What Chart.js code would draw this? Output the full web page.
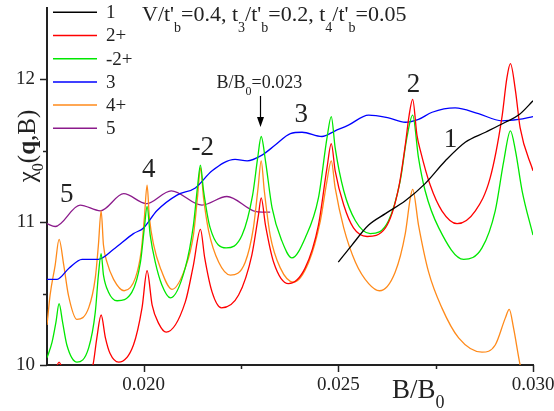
<!DOCTYPE html>
<html>
<head>
<meta charset="utf-8">
<script src="https://cdn.jsdelivr.net/npm/chart.js@4.4.1/dist/chart.umd.min.js"></script>
<style>
  body { margin: 0; background: #fff; }
</style>
</head>
<body>
<canvas id="canvas" width="554" height="411"></canvas>
<script>
// values, pairs of [B/B0, chi0]
var curve1 = [[0.02500,10.72],[0.02535,10.84],[0.02578,10.98],[0.02621,11.06],[0.02672,11.15],[0.02723,11.27],
  [0.02775,11.43],[0.02826,11.56],[0.02878,11.63],[0.02929,11.70],[0.02963,11.75],[0.03000,11.85]];

var curve2p = [[0.01752,9.92],[0.01775,9.98],[0.01783,10.02],[0.01791,9.98],[0.01829,9.85],[0.01870,10.00],
  [0.01880,10.19],[0.01891,10.35],[0.01902,10.19],[0.01914,10.08],[0.01936,10.02],[0.01974,10.14],[0.01996,10.40],
  [0.02009,10.66],[0.02022,10.42],[0.02039,10.29],[0.02058,10.23],[0.02107,10.44],[0.02128,10.70],[0.02146,10.95],
  [0.02157,10.75],[0.02176,10.51],[0.02200,10.40],[0.02244,10.49],[0.02278,10.77],[0.02295,11.05],[0.02302,11.17],
  [0.02313,10.98],[0.02334,10.72],[0.02372,10.57],[0.02415,10.68],[0.02449,10.98],[0.02471,11.38],[0.02482,11.55],
  [0.02492,11.36],[0.02514,11.12],[0.02539,10.96],[0.02574,10.90],[0.02621,10.96],[0.02655,11.24],[0.02672,11.54],
  [0.02682,11.75],[0.02691,11.86],[0.02702,11.61],[0.02711,11.50],[0.02736,11.26],[0.02766,11.08],[0.02805,10.99],
  [0.02852,11.08],[0.02890,11.31],[0.02920,11.73],[0.02933,12.01],[0.02942,12.11],[0.02955,11.92],[0.02967,11.66],
  [0.03000,11.36]];

var curve2m = [[0.01752,10.05],[0.01765,10.16],[0.01775,10.30],[0.01783,10.43],[0.01792,10.30],[0.01803,10.14],
  [0.01829,10.02],[0.01859,10.12],[0.01876,10.37],[0.01884,10.63],[0.01891,10.78],[0.01897,10.63],[0.01910,10.51],
  [0.01932,10.45],[0.01970,10.51],[0.01992,10.72],[0.02002,10.96],[0.02009,11.11],[0.02017,10.91],[0.02030,10.72],
  [0.02047,10.56],[0.02069,10.47],[0.02107,10.68],[0.02128,10.98],[0.02139,11.26],[0.02146,11.40],[0.02154,11.22],
  [0.02171,10.96],[0.02212,10.82],[0.02253,10.91],[0.02280,11.19],[0.02293,11.45],[0.02302,11.60],[0.02313,11.43],
  [0.02330,11.10],[0.02355,10.87],[0.02381,10.75],[0.02415,10.89],[0.02449,11.17],[0.02471,11.59],[0.02482,11.74],
  [0.02492,11.52],[0.02514,11.22],[0.02544,11.01],[0.02582,10.92],[0.02629,11.01],[0.02659,11.29],[0.02676,11.59],
  [0.02691,11.75],[0.02706,11.45],[0.02723,11.22],[0.02758,10.96],[0.02822,10.74],[0.02869,10.82],[0.02903,11.08],
  [0.02925,11.43],[0.02942,11.64],[0.02955,11.50],[0.02972,11.22],[0.03000,10.91]];

var curve3 = [[0.01752,10.60],[0.01778,10.60],[0.01809,10.68],[0.01842,10.74],[0.01884,10.74],[0.01923,10.81],
  [0.01974,10.92],[0.02000,10.96],[0.02034,11.08],[0.02086,11.19],[0.02133,11.24],[0.02176,11.36],[0.02235,11.44],
  [0.02266,11.43],[0.02304,11.47],[0.02338,11.54],[0.02377,11.62],[0.02407,11.63],[0.02458,11.60],[0.02492,11.64],
  [0.02526,11.68],[0.02578,11.75],[0.02629,11.73],[0.02672,11.70],[0.02706,11.72],[0.02741,11.77],[0.02800,11.80],
  [0.02860,11.76],[0.02920,11.71],[0.02963,11.72],[0.03000,11.74]];

var curve4p = [[0.01752,10.28],[0.01760,10.49],[0.01773,10.70],[0.01783,10.88],[0.01795,10.70],[0.01807,10.49],
  [0.01829,10.32],[0.01859,10.40],[0.01876,10.61],[0.01884,10.84],[0.01891,11.08],[0.01897,10.84],[0.01906,10.72],
  [0.01923,10.60],[0.01950,10.52],[0.01979,10.61],[0.01994,10.80],[0.02002,11.03],[0.02009,11.26],[0.02015,11.03],
  [0.02026,10.84],[0.02043,10.68],[0.02073,10.53],[0.02107,10.68],[0.02128,10.91],[0.02139,11.19],[0.02146,11.38],
  [0.02154,11.17],[0.02167,10.94],[0.02193,10.72],[0.02223,10.63],[0.02261,10.72],[0.02282,10.96],[0.02294,11.24],
  [0.02302,11.43],[0.02310,11.22],[0.02325,10.91],[0.02351,10.68],[0.02385,10.58],[0.02424,10.72],[0.02454,11.01],
  [0.02471,11.29],[0.02482,11.43],[0.02492,11.24],[0.02514,10.96],[0.02544,10.72],[0.02578,10.57],[0.02606,10.52],
  [0.02646,10.65],[0.02672,10.92],[0.02685,11.17],[0.02691,11.23],[0.02706,10.98],[0.02732,10.65],[0.02766,10.40],
  [0.02809,10.19],[0.02869,10.09],[0.02903,10.14],[0.02929,10.33],[0.02939,10.39],[0.02950,10.26],[0.02967,10.00],
  [0.02975,9.92]];

var curve5 = [[0.01752,10.99],[0.01773,10.97],[0.01837,11.12],[0.01889,11.08],[0.01949,11.20],[0.02007,11.13],
  [0.02071,11.22],[0.02150,11.12],[0.02214,11.18],[0.02282,11.08],[0.02305,11.07],[0.02325,11.07]];

var seriesNames = ['1', '2+', '-2+', '3', '4+', '5'];
var seriesColors = ['#000000', '#ff0000', '#00e800', '#0000ff', '#ff8a1a', '#8b1a8b'];
var xTicks = [0.020, 0.025, 0.030];
var xMinor = [0.0225, 0.0275];
var yTicks = [10, 11, 12];
var yMinor = [10.5, 11.5];
// curve labels and where they sit (data units)
var peakNames = ['5', '4', '-2', '3', '2', '1'];
var peakAt = [[0.01803,11.20],[0.02013,11.37],[0.02152,11.53],[0.02405,11.76],[0.02693,11.97],[0.02788,11.58]];
var markB = 0.023;

var serif = '"Liberation Serif", "Times New Roman", serif';

function richWidth(ctx, parts, size) {
  var w = 0;
  parts.forEach(function(p) {
    var fs = p[1] == 's' ? Math.round(size * 0.65) : size;
    ctx.font = (p[1] == 'b' ? 'bold ' : '') + fs + 'px ' + serif;
    w += ctx.measureText(p[0]).width;
  });
  return w;
}
function drawRich(ctx, parts, x, y, size, drop) {
  parts.forEach(function(p) {
    var sub = p[1] == 's';
    var fs = sub ? Math.round(size * 0.65) : size;
    ctx.font = (p[1] == 'b' ? 'bold ' : '') + fs + 'px ' + serif;
    ctx.fillText(p[0], x, y + (sub ? drop : 0));
    x += ctx.measureText(p[0]).width;
  });
}

var decorations = {
  id: 'decorations',
  afterDraw: function(chart) {
    var ctx = chart.ctx, xs = chart.scales.x, ys = chart.scales.y, a = chart.chartArea;
    ctx.save();
    ctx.strokeStyle = '#222';
    ctx.fillStyle = '#222';
    ctx.lineWidth = 1.5;
    // tick marks
    xTicks.concat(xMinor).forEach(function(v, i) {
      var px = Math.round(xs.getPixelForValue(v)) + 0.5;
      ctx.beginPath(); ctx.moveTo(px, a.bottom); ctx.lineTo(px, a.bottom + (i < xTicks.length ? 7 : 4)); ctx.stroke();
    });
    yTicks.concat(yMinor).forEach(function(v, i) {
      var py = Math.round(ys.getPixelForValue(v)) + 0.5;
      ctx.beginPath(); ctx.moveTo(a.left, py); ctx.lineTo(a.left - (i < yTicks.length ? 7 : 4), py); ctx.stroke();
    });

    ctx.textBaseline = 'alphabetic';
    ctx.textAlign = 'left';
    // title
    drawRich(ctx, [["V/t'",'n'],['b','s'],['=0.4, t','n'],['3','s'],["/t'",'n'],['b','s'],
      ['=0.2, t','n'],['4','s'],["/t'",'n'],['b','s'],['=0.05','n']], 142, 21, 22, 11);

    // x axis title
    drawRich(ctx, [['B/B','n'],['0','s']], 392, 398, 27, 10);

    // y axis title, rotated
    var yt = [['\u03c7','n'],['0','s'],['(','n'],['q','b'],[',B)','n']];
    var w = richWidth(ctx, yt, 25);
    ctx.save();
    ctx.translate(35, 146);
    ctx.rotate(-Math.PI / 2);
    drawRich(ctx, yt, -w / 2, 0, 25, 8);
    ctx.restore();

    // legend
    seriesNames.forEach(function(name, i) {
      var y = 12.3 + i * 23.2;
      ctx.strokeStyle = seriesColors[i];
      ctx.lineWidth = 1.5;
      ctx.beginPath(); ctx.moveTo(53, y); ctx.lineTo(97, y); ctx.stroke();
      ctx.fillStyle = '#222';
      ctx.font = '19px ' + serif;
      ctx.textBaseline = 'middle';
      ctx.fillText(name, 106, y + 1);
    });

    // curve labels
    ctx.textAlign = 'center';
    ctx.textBaseline = 'middle';
    ctx.font = '27px ' + serif;
    peakNames.forEach(function(n, i) {
      ctx.fillText(n, xs.getPixelForValue(peakAt[i][0]), ys.getPixelForValue(peakAt[i][1]) + 1);
    });

    // B/B0 = 0.023 marker with arrow
    var mx = Math.round(xs.getPixelForValue(markB)) + 0.5;
    ctx.textAlign = 'left';
    ctx.textBaseline = 'alphabetic';
    var lab = [['B/B','n'],['0','s'],['=' + markB.toFixed(3),'n']];
    drawRich(ctx, lab, mx - 44, 88, 18, 7);
    ctx.strokeStyle = '#000';
    ctx.lineWidth = 1.2;
    ctx.beginPath(); ctx.moveTo(mx, 96); ctx.lineTo(mx, 120); ctx.stroke();
    ctx.fillStyle = '#000';
    ctx.beginPath(); ctx.moveTo(mx - 3.5, 117); ctx.lineTo(mx + 3.5, 117); ctx.lineTo(mx, 127); ctx.closePath(); ctx.fill();
    ctx.restore();
  }
};

function makeSet(pts, i) {
  return {
    label: seriesNames[i],
    data: pts.map(function(p) { return { x: p[0], y: p[1] }; }),
    borderColor: seriesColors[i],
    borderWidth: 1.3,
    pointRadius: 0,
    fill: false,
    cubicInterpolationMode: 'monotone'
  };
}

var ctx = document.getElementById('canvas').getContext('2d');
window.myChart = new Chart(ctx, {
  type: 'line',
  data: {
    datasets: [curve1, curve2p, curve2m, curve3, curve4p, curve5].map(makeSet)
  },
  options: {
    responsive: false,
    animation: false,
    devicePixelRatio: 1,
    layout: { autoPadding: false, padding: { left: 0, top: 8, right: 21, bottom: 0 } },
    plugins: { legend: { display: false }, tooltip: { enabled: false } },
    scales: {
      x: {
        type: 'linear',
        min: 0.01752,
        max: 0.030,
        afterFit: function(s) { s.height = 46; s.paddingLeft = 0; s.paddingRight = 0; },
        afterBuildTicks: function(s) { s.ticks = xTicks.map(function(v) { return { value: v }; }); },
        grid: { display: false, drawTicks: false },
        border: { display: true, color: '#222', width: 2 },
        ticks: {
          padding: 9,
          color: '#222',
          font: { family: serif, size: 19 },
          callback: function(v) { return v.toFixed(3); }
        }
      },
      y: {
        min: 10,
        max: 12.5,
        afterFit: function(s) { s.width = 47; s.paddingTop = 0; s.paddingBottom = 0; },
        afterBuildTicks: function(s) { s.ticks = yTicks.map(function(v) { return { value: v }; }); },
        grid: { display: false, drawTicks: false },
        border: { display: true, color: '#222', width: 2 },
        ticks: {
          padding: 12,
          color: '#222',
          font: { family: serif, size: 19 },
          callback: function(v) { return String(v); }
        }
      }
    }
  },
  plugins: [decorations]
});
</script>
</body>
</html>
